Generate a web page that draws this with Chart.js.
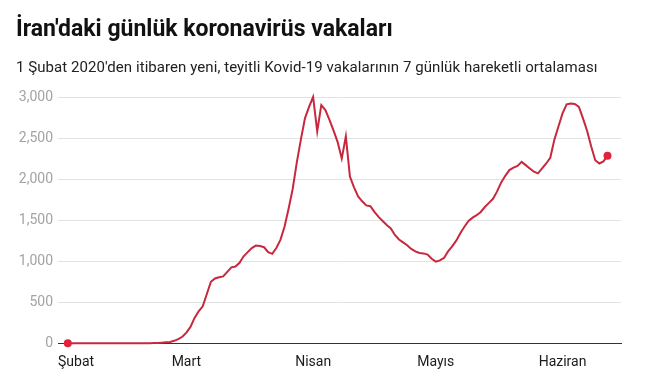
<!DOCTYPE html>
<html>
<head>
<meta charset="utf-8">
<script src="https://cdn.jsdelivr.net/npm/chart.js@4/dist/chart.umd.min.js"></script>
<style>
  body { margin: 0; background: #fff; }
  #wrap { position: relative; width: 655px; height: 385px; overflow: hidden; }
  #title { position: absolute; left: 16px; top: 17px; font: bold 23px Roboto, sans-serif; line-height: 24px; color: #111; white-space: nowrap; }
  #subtitle { position: absolute; left: 16px; top: 57px; font: 15px Roboto, sans-serif; letter-spacing: 0.065px; line-height: 20px; color: #222; white-space: nowrap; }
  #chart { position: absolute; left: 0; top: 0; }
</style>
</head>
<body>
<div id="wrap">
  <canvas id="chart" width="655" height="385"></canvas>
  <div id="title">İran'daki günlük koronavirüs vakaları</div>
  <div id="subtitle">1 Şubat 2020'den itibaren yeni, teyitli Kovid-19 vakalarının 7 günlük hareketli ortalaması</div>
</div>
<script>
// 7-day average of daily cases, one value per day starting 1 Feb 2020
const cases = [
    0, 0, 0, 0, 0, 0, 0, 0, 0, 0,
    0, 0, 0, 0, 0, 0, 0, 0, 0, 1,
    2, 3, 5, 8, 12, 17, 30, 50, 80, 130,
    200, 310, 390, 450, 600, 750, 790, 805, 815, 870,
    925, 935, 980, 1060, 1110, 1160, 1190, 1185, 1170, 1110,
    1090, 1160, 1260, 1420, 1640, 1880, 2200, 2480, 2740, 2880,
    3000, 2580, 2900, 2840, 2720, 2590, 2450, 2250, 2520, 2030,
    1900, 1790, 1730, 1680, 1670, 1600, 1540, 1490, 1440, 1400,
    1320, 1265, 1230, 1195, 1150, 1120, 1100, 1095, 1080, 1030,
    995, 1010, 1040, 1120, 1180, 1250, 1340, 1420, 1490, 1530,
    1560, 1600, 1660, 1710, 1760, 1850, 1960, 2040, 2110, 2140,
    2160, 2210, 2170, 2130, 2090, 2070, 2130, 2190, 2260, 2480,
    2640, 2800, 2910, 2920, 2915, 2880, 2740, 2590, 2400, 2230,
    2190, 2215, 2285
];

// month labels and the day index they sit at
const monthLabels = ['Şubat', 'Mart', 'Nisan', 'Mayıs', 'Haziran', ''];
const monthDays = [-2.4, 29, 60, 90, 121, 135.3];

const yTicks = [0, 500, 1000, 1500, 2000, 2500, 3000];

const lineColor = '#c8283d';
const dotColor = '#e2213a';

const points = cases.map((v, i) => ({ x: i, y: v }));
const lastIdx = cases.length - 1;

new Chart(document.getElementById('chart').getContext('2d'), {
    type: 'line',
    data: {
        datasets: [{
            data: points,
            borderColor: lineColor,
            borderWidth: 2,
            tension: 0,
            clip: false,
            pointRadius: ctx => (ctx.dataIndex === 0 || ctx.dataIndex === lastIdx) ? 4 : 0,
            pointBackgroundColor: dotColor,
            pointBorderWidth: 0,
            pointHoverRadius: 0
        }]
    },
    options: {
        responsive: false,
        animation: false,
        events: [],
        layout: { padding: { top: 97, right: 34, left: 0, bottom: 0 } },
        plugins: { legend: { display: false }, tooltip: { enabled: false } },
        scales: {
            x: {
                type: 'linear',
                min: monthDays[0],
                max: monthDays[monthDays.length - 1],
                afterBuildTicks: scale => { scale.ticks = monthDays.map(v => ({ value: v })); },
                afterFit: scale => { scale.height = 41.7; },
                grid: { display: false },
                border: { display: true, color: '#333', width: 1 },
                ticks: {
                    autoSkip: false,
                    maxRotation: 0,
                    align: 'inner',
                    padding: 3,
                    color: '#1a1a1a',
                    font: { family: 'Roboto, sans-serif', size: 14 },
                    callback: (v, i) => monthLabels[i]
                }
            },
            y: {
                min: 0,
                max: 3000,
                afterBuildTicks: scale => { scale.ticks = yTicks.map(v => ({ value: v })); },
                afterFit: scale => { scale.width = 58; },
                grid: {
                    color: ctx => ctx.tick && ctx.tick.value === 0 ? 'rgba(0,0,0,0)' : '#e3e3e3',
                    drawTicks: false
                },
                border: { display: false },
                ticks: {
                    padding: 5,
                    color: '#a3a3a3',
                    font: { family: 'Roboto, sans-serif', size: 14 },
                    callback: v => v.toLocaleString('en-US')
                }
            }
        }
    }
});
</script>
</body>
</html>
